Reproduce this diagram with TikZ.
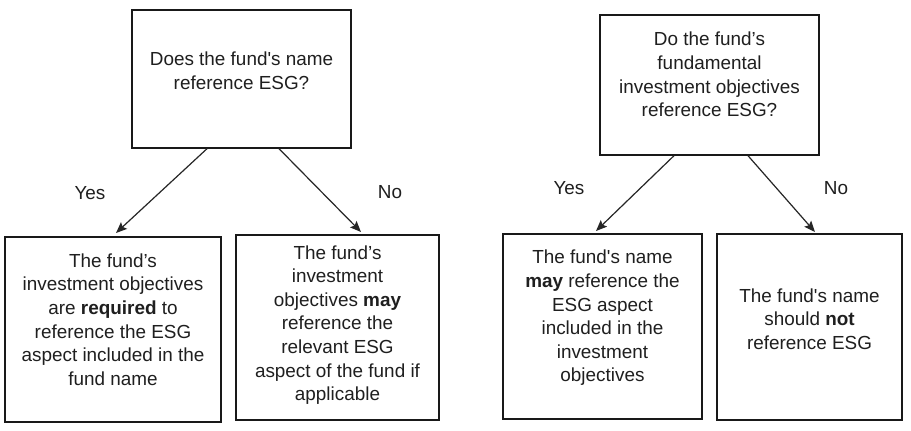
\documentclass[tikz,border=0pt]{standalone}
\usepackage{fontspec}
\setmainfont{Liberation Sans}
\usetikzlibrary{arrows.meta}
\begin{document}
\begin{tikzpicture}[x=1pt,y=-1pt,
  box/.style={draw=black!90,line width=1.4pt,inner sep=0pt},
  txt/.style={align=center,inner sep=0pt,text=black!88,font=\fontsize{18.9}{23.6}\selectfont},
  lbl/.style={inner sep=0pt,text=black!88,font=\fontsize{18.9}{23.6}\selectfont},
  conn/.style={draw=black!85,line width=1.2pt,-{Stealth[length=11pt,width=9pt,inset=2pt]}}]
\useasboundingbox (0,0) rectangle (911,431);
\fill[white] (0,0) rectangle (911,431);
% boxes
\node[box,minimum width=219pt,minimum height=138pt] (q1) at (241.5,79) {};
\node[box,minimum width=219pt,minimum height=140pt] (q2) at (709.5,85) {};
\node[box,minimum width=216pt,minimum height=185pt] (a1) at (113,329.5) {};
\node[box,minimum width=203pt,minimum height=185pt] (a2) at (337.5,327.5) {};
\node[box,minimum width=199pt,minimum height=185pt] (a3) at (602.5,326.5) {};
\node[box,minimum width=185pt,minimum height=186pt] (a4) at (809.5,327) {};
% texts
\node[txt] (t1) at (241.5,71) {Does the fund\textquotesingle s name\\reference ESG?};
\node[txt] (t2) at (709.5,74.5) {Do the fund’s\\fundamental\\investment objectives\\reference ESG?};
\node[txt] (t3) at (113,319.5) {The fund’s\\investment objectives\\are \textbf{required} to\\reference the ESG\\aspect included in the\\fund name};
\node[txt] (t4) at (337.5,325) {The fund’s\\investment\\objectives \textbf{may}\\reference the\\relevant ESG\\aspect of the fund if\\applicable};
\node[txt] (t5) at (602.5,318) {The fund\textquotesingle s name\\\textbf{may} reference the\\ESG aspect\\included in the\\investment\\objectives};
\node[txt] (t6) at (809.5,319) {The fund\textquotesingle s name\\should \textbf{not}\\reference ESG};
% arrow tips
\coordinate (e1) at (116,233);
\coordinate (e2) at (361,232);
\coordinate (e3) at (596,231);
\coordinate (e4) at (815,232);
\draw[conn] ([xshift=-34.5pt]q1.south) -- (e1);
\draw[conn] ([xshift=37.5pt]q1.south) -- (e2);
\draw[conn] ([xshift=-35.5pt]q2.south) -- (e3);
\draw[conn] ([xshift=38.5pt]q2.south) -- (e4);
% labels
\node[lbl] (y1) at (90,193) {Yes};
\node[lbl] (n1) at (390,192) {No};
\node[lbl] (y2) at (569,188) {Yes};
\node[lbl] (n2) at (836,188) {No};
\end{tikzpicture}
\end{document}
